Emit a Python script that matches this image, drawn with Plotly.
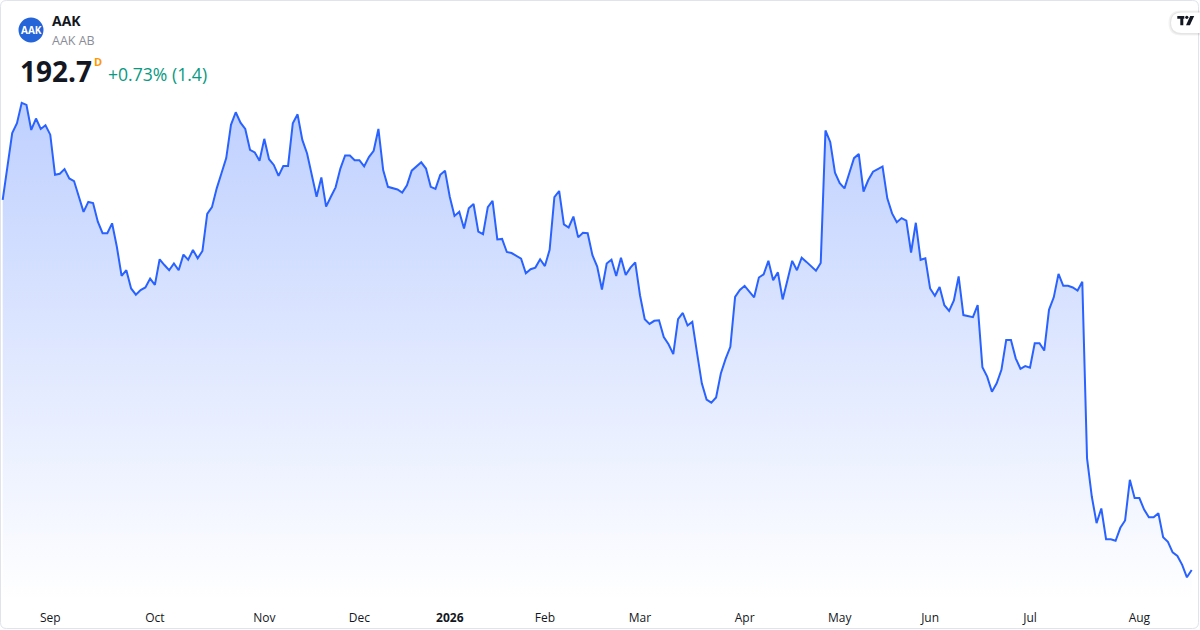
import pandas as pd
import plotly.graph_objects as go

# ---------------- data ----------------
SYMBOL = "AAK"
NAME = "AAK AB"
LAST_PRICE = "192.7"
CHANGE_TEXT = "+0.73% (1.4)"

START_DATE = "2025-08-18"
SE_HOLIDAYS = ["2025-12-24", "2025-12-25", "2025-12-26", "2025-12-31",
               "2026-01-01", "2026-01-06", "2026-04-03", "2026-04-06",
               "2026-05-01", "2026-05-14", "2026-06-19"]

close = [
    263.7, 270.1, 276.5, 278.4, 282.3, 281.9, 277.1, 279.3, 277.3, 278.0,
    276.2, 268.5, 268.7, 269.6, 267.8, 267.3, 264.4, 261.4, 263.3, 263.1,
    259.5, 257.3, 257.3, 259.2, 254.7, 249.1, 250.2, 246.7, 245.5, 246.4,
    246.9, 248.6, 247.4, 252.3, 251.2, 250.2, 251.5, 250.2, 253.2, 252.2,
    254.1, 252.5,
    253.9, 261.0, 262.3, 265.9, 268.8, 271.7, 278.1, 280.5, 278.5, 277.3,
    273.3, 272.8, 271.2, 275.4, 271.5, 270.4, 268.3, 270.2, 270.2, 278.4,
    280.1, 275.2, 272.6, 268.7, 264.3, 268.0, 262.4, 264.3, 266.1, 269.7,
    272.2, 272.2, 271.3, 271.3, 270.1, 271.9, 273.1, 277.3, 269.4, 266.2,
    266.0, 265.7,
    265.1, 266.5, 269.3, 270.1, 270.9, 269.7, 266.2, 265.8, 268.5, 269.3,
    264.3, 260.6, 261.4, 258.2, 262.1, 262.9, 257.6, 257.1, 262.3, 263.5,
    256.1, 256.2, 253.7, 253.5, 252.9, 252.4, 249.6, 250.4, 250.7, 252.3,
    251.0, 254.1, 264.2, 265.4, 259.0, 258.4, 260.5, 256.5, 257.4, 257.3,
    253.1, 250.9,
    246.5, 251.5, 252.2, 249.1, 252.6, 249.3, 250.7, 251.7, 245.4, 240.8,
    239.9, 240.5, 240.6, 237.4, 236.0, 234.1, 240.8, 242.0, 239.6, 240.3,
    234.3, 228.5, 225.4, 224.8, 225.8, 230.4, 233.2, 235.5, 245.1, 246.4,
    247.2, 246.1, 245.0, 248.8, 249.4, 252.0, 248.3, 249.8, 244.6, 248.3,
    252.0, 250.2,
    252.6, 251.8, 251.0, 250.1, 251.6, 277.0, 274.8, 268.9, 266.9, 265.9,
    268.8, 271.7, 272.5, 265.3, 267.5, 269.1, 269.6, 270.1, 264.0, 261.1,
    259.4, 260.2, 259.7, 253.6, 259.3, 252.2, 252.5, 246.7, 245.3, 247.0,
    243.5, 242.4, 244.4, 249.0, 241.6, 241.4, 241.2, 243.5, 231.6, 229.8,
    226.9, 228.5,
    231.1, 236.8, 236.8, 233.3, 231.3, 231.8, 231.5, 236.2, 236.2, 234.8,
    242.6, 245.0, 249.5, 247.2, 247.2, 246.9, 246.3, 248.0, 214.1, 206.8,
    201.7, 204.5, 198.6, 198.6, 198.3, 200.8, 202.2, 210.0, 206.5, 206.5,
    204.3, 202.8, 202.8, 203.6, 199.0, 198.1, 196.1, 195.4, 193.7, 191.3,
    192.7,
]

dates = pd.bdate_range(START_DATE, periods=len(close), freq="C", holidays=SE_HOLIDAYS)
idx = list(range(len(close)))

tick_vals, tick_text = [], []
for i in range(1, len(dates)):
    if dates[i].month != dates[i - 1].month:
        tick_vals.append(i)
        if dates[i].month == 1:
            tick_text.append("<b>%d</b>" % dates[i].year)
        else:
            tick_text.append(dates[i].strftime("%b"))

# ---------------- layout helpers ----------------
W, H = 1200, 630
PLOT_H = 600
FONT = "Open Sans, Noto Sans, sans-serif"
BLUE = "#2962FF"


def X(px):
    return px / W


def Y(py):
    return 1 - py / PLOT_H


y_lo, y_hi = 186.95, 302.03
x_lo, x_hi = -0.568, 251.75

fig = go.Figure()
fig.add_trace(go.Scatter(
    x=idx, y=close, mode="lines",
    line=dict(color=BLUE, width=2),
    fill="tozeroy",
    fillgradient=dict(type="vertical",
                      colorscale=[[0, "rgba(41,98,255,0.0)"],
                                  [1, "rgba(41,98,255,0.30)"]],
                      start=y_lo, stop=max(close)),
    hoverinfo="skip",
))

shapes = []

# rounded outer border
x0, y0, x1, y1, r = 0.5, 0.5, 1198.5, 628.5, 6
path = (f"M {X(x0+r)},{Y(y0)} L {X(x1-r)},{Y(y0)} Q {X(x1)},{Y(y0)} {X(x1)},{Y(y0+r)} "
        f"L {X(x1)},{Y(y1-r)} Q {X(x1)},{Y(y1)} {X(x1-r)},{Y(y1)} "
        f"L {X(x0+r)},{Y(y1)} Q {X(x0)},{Y(y1)} {X(x0)},{Y(y1-r)} "
        f"L {X(x0)},{Y(y0+r)} Q {X(x0)},{Y(y0)} {X(x0+r)},{Y(y0)} Z")
shapes.append(dict(type="path", xref="paper", yref="paper", path=path,
                   line=dict(color="#E0E3EB", width=1), fillcolor="rgba(0,0,0,0)",
                   layer="above"))


def pill(xa, ya, xb, yb, color):
    rr = (yb - ya) / 2
    p = (f"M {X(xa+rr)},{Y(ya)} L {X(xb)},{Y(ya)} L {X(xb)},{Y(yb)} L {X(xa+rr)},{Y(yb)} "
         f"Q {X(xa)},{Y(yb)} {X(xa)},{Y(ya+rr)} Q {X(xa)},{Y(ya)} {X(xa+rr)},{Y(ya)} Z")
    return dict(type="path", xref="paper", yref="paper", path=p, fillcolor=color,
                line=dict(width=0), layer="above")


# TradingView logo tab
shapes.append(pill(1168.5, 10.5, 1201, 35.5, "rgba(0,0,0,0.05)"))
shapes.append(pill(1170, 11.5, 1201, 34.5, "rgba(0,0,0,0.05)"))
shapes.append(pill(1171, 12.5, 1201, 33, "#FFFFFF"))
tpath = (f"M {X(1177.3)},{Y(16)} L {X(1184.3)},{Y(16)} L {X(1184.3)},{Y(18.8)} "
         f"L {X(1183.3)},{Y(18.8)} L {X(1183.3)},{Y(25.3)} L {X(1180.3)},{Y(25.3)} "
         f"L {X(1180.3)},{Y(18.8)} L {X(1177.3)},{Y(18.8)} Z")
shapes.append(dict(type="path", xref="paper", yref="paper", path=tpath,
                   fillcolor="#131722", line=dict(width=0), layer="above"))
shapes.append(dict(type="circle", xref="paper", yref="paper",
                   x0=X(1185.2), x1=X(1188.4), y0=Y(18.9), y1=Y(15.7),
                   fillcolor="#131722", line=dict(width=0), layer="above"))
vpath = (f"M {X(1190.2)},{Y(16)} L {X(1194.2)},{Y(16)} L {X(1189.9)},{Y(25.3)} "
         f"L {X(1186.0)},{Y(25.3)} Z")
shapes.append(dict(type="path", xref="paper", yref="paper", path=vpath,
                   fillcolor="#131722", line=dict(width=0), layer="above"))

# symbol logo circle
shapes.append(dict(type="circle", xref="paper", yref="paper",
                   x0=X(18.5), x1=X(43.5), y0=Y(42.5), y1=Y(17.5),
                   fillcolor="#2563D9", line=dict(width=0), layer="above"))

annotations = [
    dict(text="<b>AAK</b>", x=X(31), y=Y(30.5), font=dict(size=10, color="#FFFFFF", family=FONT),
         xanchor="center", yanchor="middle"),
    dict(text="<b>" + SYMBOL + "</b>", x=X(50), y=Y(20.5), font=dict(size=14, color="#131722", family=FONT),
         xanchor="left", yanchor="middle"),
    dict(text=NAME, x=X(50), y=Y(40.5), font=dict(size=12.5, color="#8A8D96", family=FONT),
         xanchor="left", yanchor="middle"),
    dict(text="<b>" + LAST_PRICE + "</b>", x=X(18), y=Y(71), font=dict(size=28, color="#131722", family=FONT),
         xanchor="left", yanchor="middle"),
    dict(text="<b>D</b>", x=X(92), y=Y(61), font=dict(size=11, color="#FF9800", family=FONT),
         xanchor="left", yanchor="middle"),
    dict(text=CHANGE_TEXT, x=X(106), y=Y(74.5), font=dict(size=17.6, color="#089981", family=FONT),
         xanchor="left", yanchor="middle"),
]
for a in annotations:
    a.update(xref="paper", yref="paper", showarrow=False)

fig.update_layout(
    width=W, height=H,
    margin=dict(l=0, r=0, t=0, b=H - PLOT_H, pad=0),
    paper_bgcolor="#FFFFFF", plot_bgcolor="#FFFFFF",
    showlegend=False,
    font=dict(family=FONT, color="#131722", size=12),
    shapes=shapes, annotations=annotations,
    xaxis=dict(range=[x_lo, x_hi], tickmode="array", tickvals=tick_vals, ticktext=tick_text,
               showgrid=False, zeroline=False, showline=False,
               ticks="outside", ticklen=7, tickcolor="rgba(0,0,0,0)",
               tickfont=dict(size=12, color="#131722", family=FONT), fixedrange=True),
    yaxis=dict(range=[y_lo, y_hi], visible=False, showgrid=False, zeroline=False, fixedrange=True),
    hovermode=False,
)

fig.write_html("out.html", config={"displayModeBar": False},
               post_script="document.body.style.margin='0';document.body.style.overflow='hidden';")
